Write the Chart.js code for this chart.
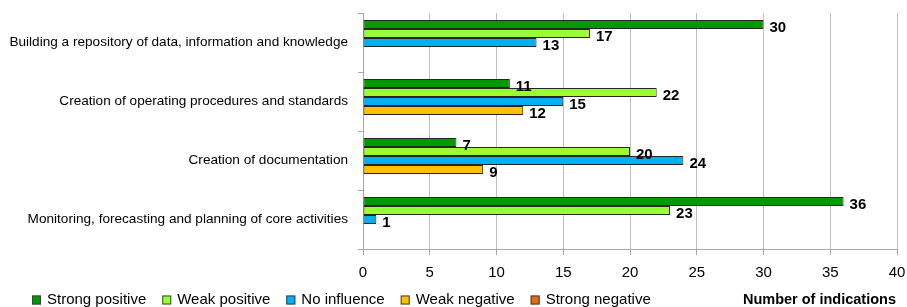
<!DOCTYPE html>
<html>
<head>
<meta charset="utf-8">
<script src="https://cdn.jsdelivr.net/npm/chart.js@4"></script>
<style>
  html, body { margin: 0; padding: 0; background: #fff; }
  #wrap { width: 907px; height: 307px; }
</style>
</head>
<body>
<div id="wrap"><canvas id="chart" width="907" height="307"></canvas></div>
<script>
const categories = [
  'Building a repository of data, information and knowledge',
  'Creation of operating procedures and standards',
  'Creation of documentation',
  'Monitoring, forecasting and planning of core activities'
]
const seriesNames = ['Strong positive', 'Weak positive', 'No influence', 'Weak negative', 'Strong negative']
const strongPositive = [30, 11, 7, 36]
const weakPositive = [17, 22, 20, 23]
const noInfluence = [13, 15, 24, 1]
const weakNegative = [0, 12, 9, 0]
const strongNegative = [0, 0, 0, 0]
const xTicks = [0, 5, 10, 15, 20, 25, 30, 35, 40]
const axisTitle = 'Number of indications'

const colors = ['#009900', '#99FF33', '#00B0F0', '#FFC000', '#E46C0A']
const FONT = '"Liberation Sans", Arial, sans-serif'

const series = [strongPositive, weakPositive, noInfluence, weakNegative, strongNegative]

// value labels at the end of each bar
const valueLabels = {
  id: 'valueLabels',
  afterDatasetsDraw(chart) {
    const ctx = chart.ctx
    ctx.save()
    ctx.font = 'bold 15px ' + FONT
    ctx.fillStyle = '#000'
    ctx.textAlign = 'left'
    ctx.textBaseline = 'middle'
    chart.data.datasets.forEach((ds, i) => {
      chart.getDatasetMeta(i).data.forEach((bar, j) => {
        const v = ds.data[j]
        if (v == null) return
        ctx.fillText(String(v), bar.x + 6, bar.y + 3)
      })
    })
    ctx.restore()
  }
}

// legend row + axis title along the bottom
const bottomRow = {
  id: 'bottomRow',
  afterDraw(chart) {
    const ctx = chart.ctx
    const y = 300
    ctx.save()
    ctx.font = '15px ' + FONT
    ctx.textBaseline = 'middle'
    ctx.textAlign = 'left'
    let x = 32
    chart.data.datasets.forEach(ds => {
      ctx.fillStyle = ds.backgroundColor
      ctx.fillRect(x, y - 4.5, 9, 9)
      ctx.strokeStyle = '#404040'
      ctx.lineWidth = 1
      ctx.strokeRect(x + 0.5, y - 4, 8, 8)
      ctx.fillStyle = '#000'
      ctx.fillText(ds.label, x + 15, y)
      x += 15 + ctx.measureText(ds.label).width + 16
    })
    ctx.font = 'bold 14.5px ' + FONT
    ctx.textAlign = 'right'
    ctx.fillText(axisTitle, 896, y)
    ctx.restore()
  }
}

new Chart(
  document.getElementById('chart'),
  {
    type: 'bar',
    data: {
      labels: categories,
      datasets: series.map((vals, i) => ({
        label: seriesNames[i],
        data: vals.map(v => v || null),
        backgroundColor: colors[i],
        borderColor: '#262626',
        borderWidth: 1,
        borderSkipped: false,
        barPercentage: 1.0,
        categoryPercentage: 0.763
      }))
    },
    options: {
      indexAxis: 'y',
      responsive: false,
      animation: false,
      layout: {
        padding: { top: 13, right: 10, left: 0, bottom: 0 }
      },
      plugins: {
        legend: { display: false },
        tooltip: { enabled: false }
      },
      scales: {
        x: {
          min: 0,
          max: 40,
          afterBuildTicks: scale => {
            scale.ticks = xTicks.map(v => ({ value: v }))
          },
          afterFit: scale => {
            scale.height = 58
            scale.paddingLeft = 0
            scale.paddingRight = 0
          },
          grid: {
            color: '#BFBFBF',
            tickLength: 6,
            tickColor: '#A6A6A6'
          },
          border: { color: '#A6A6A6' },
          ticks: {
            color: '#000',
            padding: 9,
            font: { family: FONT, size: 15 }
          }
        },
        y: {
          afterFit: scale => {
            scale.width = 363
            scale.paddingTop = 0
            scale.paddingBottom = 0
          },
          grid: {
            offset: true,
            drawOnChartArea: false,
            tickLength: 5,
            tickColor: '#A6A6A6'
          },
          border: { color: '#A6A6A6' },
          ticks: {
            color: '#000',
            padding: 10,
            font: { family: FONT, size: 13.6 }
          }
        }
      }
    },
    plugins: [valueLabels, bottomRow]
  }
)
</script>
</body>
</html>
